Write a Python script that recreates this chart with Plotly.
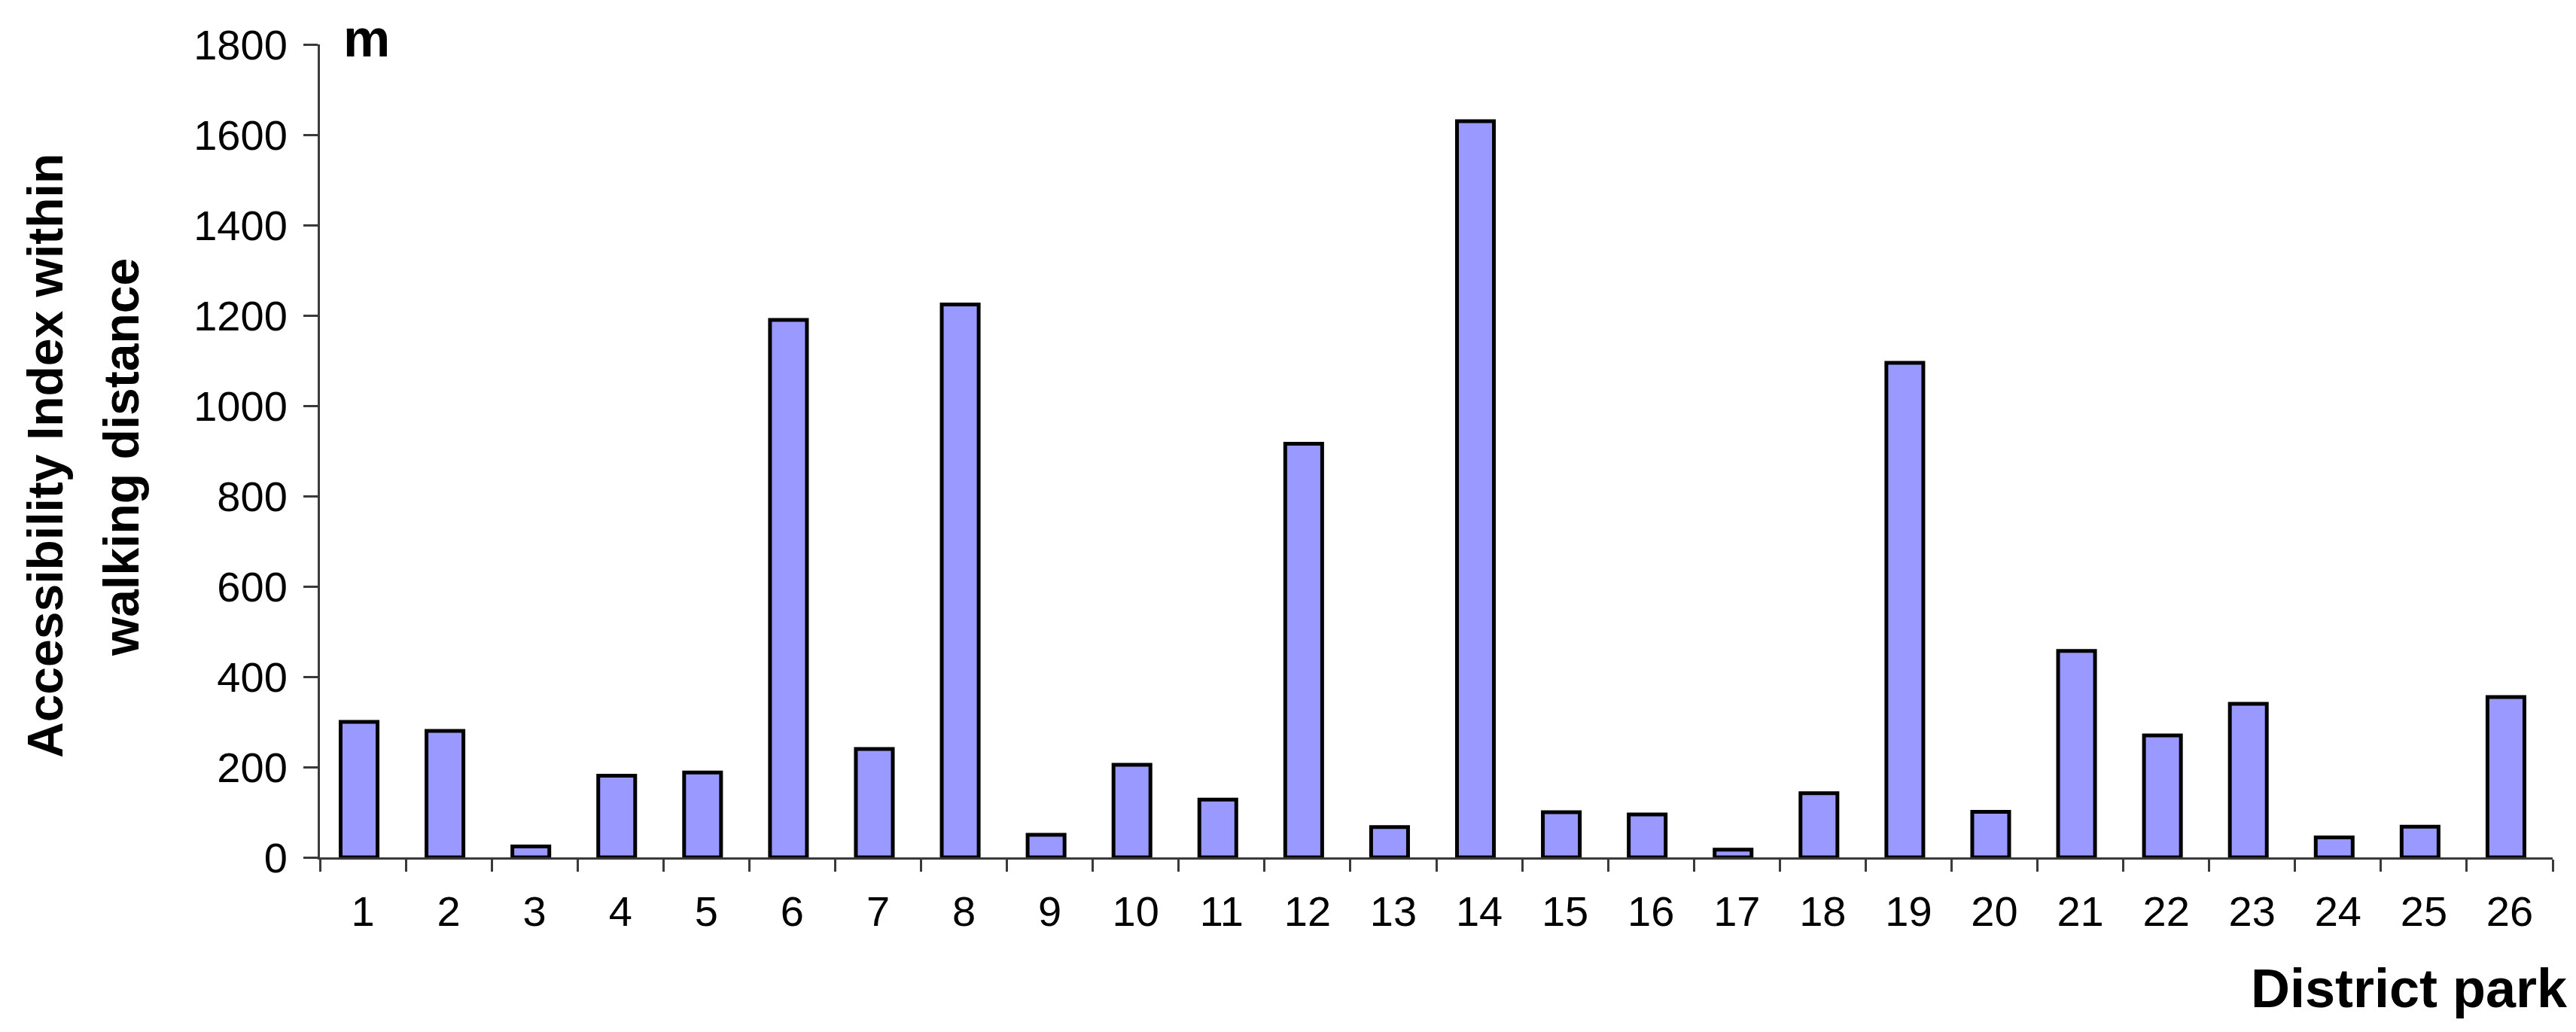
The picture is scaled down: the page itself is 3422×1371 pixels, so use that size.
import plotly.graph_objects as go

parks = [str(i) for i in range(1, 27)]
values = [300, 280, 24, 181, 188, 1190, 240, 1224, 50, 205, 128, 916, 67, 1630,
          100, 95, 17, 142, 1095, 101, 457, 270, 340, 44, 68, 355]
y_ticks = [0, 200, 400, 600, 800, 1000, 1200, 1400, 1600, 1800]

W, H = 3422, 1371
L, R, T, B = 417, 39, 51, 240
pw, ph = W - L - R, H - T - B

def px(x):
    return (x - L) / pw

def py(y):
    return (H - B - y) / ph

FONT = "Liberation Sans, Arial, sans-serif"
AXC = "#3a3a3a"
BAR_W = 0.43

fig = go.Figure(go.Bar(
    x=parks, y=values,
    marker=dict(color="#9999FF", line=dict(color="black", width=5)),
    width=BAR_W, offset=-BAR_W / 2 - 0.044,
))

fig.update_layout(
    width=W, height=H,
    margin=dict(l=L, r=R, t=T, b=B, pad=0),
    paper_bgcolor="white", plot_bgcolor="white",
    font=dict(family=FONT, color="black", size=56),
    showlegend=False,
    xaxis=dict(
        type="category", range=[-0.5, 25.5],
        showline=True, linecolor=AXC, linewidth=3,
        ticks="outside", tickson="boundaries", ticklen=16, tickwidth=3, tickcolor=AXC,
        tickfont=dict(size=56), ticklabelstandoff=21,
        showgrid=False, zeroline=False,
    ),
    yaxis=dict(
        range=[0, 1800], tickvals=y_ticks,
        showline=True, linecolor=AXC, linewidth=3,
        ticks="outside", ticklen=19, tickwidth=3, tickcolor=AXC,
        tickfont=dict(size=56), ticklabelstandoff=10,
        showgrid=False, zeroline=False,
    ),
    annotations=[
        dict(text="<b>Accessibility Index within</b>", xref="paper", yref="paper",
             x=px(52), y=py(598), textangle=-90, showarrow=False,
             xanchor="center", yanchor="middle", font=dict(size=66, family=FONT)),
        dict(text="<b>walking distance</b>", xref="paper", yref="paper",
             x=px(153), y=py(600), textangle=-90, showarrow=False,
             xanchor="center", yanchor="middle", font=dict(size=66, family=FONT)),
        dict(text="<b>m</b>", xref="paper", yref="paper",
             x=px(479), y=py(43), showarrow=False,
             xanchor="center", yanchor="middle", font=dict(size=70, family=FONT)),
        dict(text="<b>District park</b>", xref="paper", yref="paper",
             x=px(3405), y=py(1305), showarrow=False,
             xanchor="right", yanchor="middle", font=dict(size=72, family=FONT)),
    ],
)

fig.write_html("out.html")
